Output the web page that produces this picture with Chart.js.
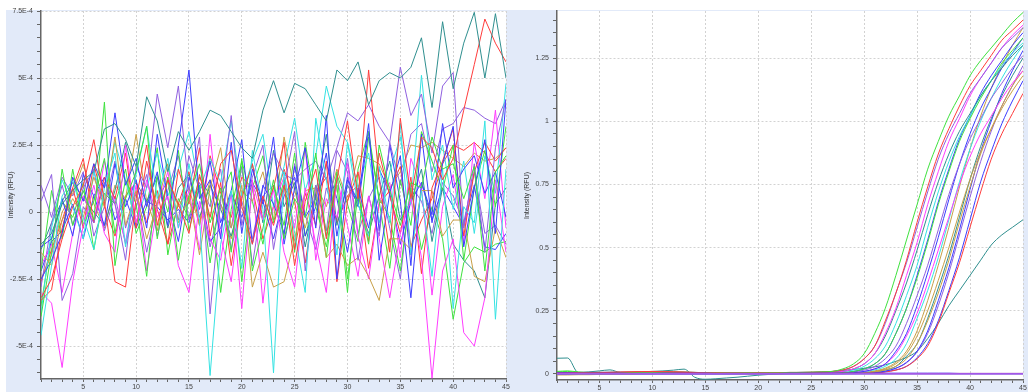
<!DOCTYPE html>
<html>
<head>
<meta charset="utf-8">
<script src="https://cdn.jsdelivr.net/npm/chart.js@4/dist/chart.umd.min.js"></script>
<style>
  html, body { margin: 0; padding: 0; background: #fff; }
  #wrap { position: relative; width: 1028px; height: 392px; overflow: hidden; }
  #panel { position: absolute; left: 6px; top: 10px; right: 0; bottom: 0; background: #e2eaf9; }
  canvas { position: absolute; top: 0; }
  #left { left: 0; }
  #right { left: 514px; }
</style>
</head>
<body>
<div id="wrap">
  <div id="panel"></div>
  <canvas id="left" width="514" height="392"></canvas>
  <canvas id="right" width="514" height="392"></canvas>
</div>
<script>
// cycles shared by both plots
var cycles = [1,2,3,4,5,6,7,8,9,10,11,12,13,14,15,16,17,18,19,20,21,22,23,24,25,26,27,28,29,30,31,32,33,34,35,36,37,38,39,40,41,42,43,44,45];

// left plot: baseline-subtracted signal, in units of 1E-4 RFU
var noise1 = [-1.2,-0.8,0.3,0.8,1.2, 1.5,3.1,3.3,2.7,1.7, 4.3,3.4,1.5,3.0,2.3, 3.0,3.8,3.6,3.0,2.4, 2.0,3.8,4.9,3.7,4.8, 4.6,4.0,3.4,5.3,4.9, 5.6,4.0,4.9,5.2,5.0, 5.4,6.5,3.9,7.1,4.6, 6.3,7.45,5.0,7.4,5.0];
var noise2 = [-3.2,-2.5,-1.0,0.2,1.0, 2.7,0.4,-2.6,-2.8,0.5, 2.5,-0.5,1.2,0.3,-0.8, 1.4,-0.2,1.8,2.3,0.2, -1.2,0.6,-0.5,1.0,-2.0, 0.4,1.6,-1.0,1.2,3.4, 0.5,5.3,1.2,-1.5,3.5, 0.5,2.8,2.4,1.2,2.0, 3.8,5.5,7.2,6.3,5.6];
var noise3 = [-3.9,-1.5,1.6,-0.5,0.8, -0.3,4.1,-2.0,0.5,1.5, 3.2,-1.0,1.3,-1.8,0.6, 1.8,-0.4,0.9,-1.5,2.0, -2.2,-0.6,1.2,-1.0,0.5, -0.2,2.2,-0.9,1.5,-2.5, 0.7,-1.2,2.5,0.8,-0.5, 1.1,0.9,2.8,1.6,1.8, 0.5,1.7,-2.2,1.5,2.1];
var noise4 = [-2.5,-1.8,-0.8,1.3,0.4, 1.8,0.9,3.7,1.0,2.0, 0.2,1.5,-0.5,2.5,5.3, 0.5,1.2,-1.0,2.6,-0.8, 1.6,0.3,2.8,-1.2,0.9, 2.4,-0.6,3.6,-2.5,1.2, 0.4,3.3,-1.8,0.7,2.1, -2.0,2.9,-0.4,1.8,3.2, -1.3,0.9,2.7,-0.8,4.2];
var noise5 = [-4.6,-2.0,0.6,1.2,-0.2, -1.4,0.9,2.2,-1.3,1.4, 3.2,0.5,2.0,-0.6,1.8, -0.3,-6.1,-1.2,0.8,-2.1, 2.3,0.1,-6.0,1.5,-0.8, -3.0,3.5,1.2,-1.6,2.6, 0.3,-0.9,1.7,-0.4,3.3, -1.6,0.8,-2.4,1.6,-3.6, 0.2,-0.4,3.4,-4.0,1.6];
var noise6 = [-3.0,-3.4,-5.8,-2.6,-0.5, 1.0,-0.8,-1.5,2.5,-0.4, 1.2,-0.2,0.6,-2.0,-3.0, 0.4,-1.0,-1.8,0.7,-3.6, 1.1,-0.3,0.8,-1.5,-2.8, 0.9,-1.2,-3.0,1.3,-0.5, -2.4,0.6,-1.0,-3.2,-0.8, 0.5,-1.7,-6.2,-2.2,-1.0, -4.5,-5.0,-3.2,1.2,-1.5];
var noise7 = [0.4,1.4,-3.3,-2.3,0.2, -0.4,1.1,0.3,-1.8,1.7, 0.9,4.4,2.4,4.7,0.8, 2.8,-3.8,0.4,3.6,-0.5, 1.3,2.5,-1.4,0.9,3.0, -2.2,1.0,-0.7,2.3,1.5, -1.8,0.6,-0.9,2.6,5.4, 3.6,4.4,2.2,4.7,5.2, -0.6,1.8,-1.5,2.4,4.2];
var noise8 = [-1.5,-2.0,-0.3,0.5,-0.2, 1.3,0.2,2.8,-0.5,0.8, -1.0,0.3,1.8,-0.4,0.6, -1.6,0.9,2.4,-0.6,1.0, -2.8,-1.5,-2.8,-2.6,-1.0, 0.8,0.9,-1.7,-1.2,-2.0, -1.7,-2.4,-3.3,-1.0,-1.0, -1.4,0.8,0.8,-0.9,-0.3, -0.3,-2.4,-2.6,-0.6,-1.7];
var noise9 = [-3.3,-2.9,-0.6,0.9,2.0, -0.4,1.3,0.5,2.2,-0.6, 1.9,0.1,-1.2,1.6,0.3, 2.4,-0.9,1.1,-2.0,0.5, 1.8,-0.3,0.9,2.6,-1.4, 0.7,-0.5,1.9,-2.6,0.4, 1.5,-1.1,2.2,0.6,-0.8, 1.3,-2.3,0.9,1.9,3.1, -0.9,1.5,2.6,1.9,2.4];
var noise10 = [-2.2,0.8,-1.0,1.6,-0.5, 0.4,2.0,-0.8,1.2,0.3, -2.4,1.4,0.0,2.3,-0.7, 1.0,-1.9,0.6,1.5,-2.6, 0.9,2.1,-0.4,1.2,-1.5, 2.6,0.2,-1.3,1.0,-3.0, 1.6,3.0,0.4,-2.1,1.2, -0.5,3.0,1.9,0.8,2.5, -1.8,0.9,2.3,0.2,3.2];
var noise11 = [-1.3,-1.0,0.5,-0.9,1.4, 0.6,-0.5,1.8,0.2,1.2, -0.6,2.9,0.5,-1.1,1.3, 0.1,1.9,-0.4,0.8,2.7, -1.2,1.0,0.3,-0.8,1.7, -0.2,0.5,2.2,-0.9,1.3, 0.2,3.0,-0.7,2.5,0.4, -3.2,1.1,-0.1,3.3,0.9, 1.6,2.1,0.7,1.5,-0.2];
var noise12 = [-3.8,-0.6,1.2,0.2,-1.0, 1.5,0.4,2.6,1.2,-0.5, 0.9,2.2,0.6,1.6,3.0, 0.8,2.0,1.1,3.4,0.6, 1.9,2.9,0.2,1.7,3.5, 0.8,2.1,4.7,3.2,2.6, 0.9,2.2,-0.4,1.5,2.8, 0.3,5.1,1.2,2.5,0.1, 1.9,-0.8,2.1,0.7,4.8];
var noise13 = [-2.0,-1.2,-3.0,-0.8,0.6, -0.4,1.9,0.3,-1.1,1.0, -2.2,0.2,1.5,-0.6,0.8, -1.4,2.9,-0.9,-2.6,0.7, 1.2,-3.4,0.3,1.3,-0.6, 2.4,-1.8,0.5,-0.2,1.8, -0.9,-2.5,0.4,1.1,-1.7, 2.0,0.9,-3.1,0.2,1.4, -1.2,2.6,0.5,3.8,-0.6];
var noise14 = [-2.8,-0.4,1.0,-0.5,0.9, 1.6,-0.7,0.6,-1.2,0.2, 1.4,-0.9,0.8,2.1,-0.3, 1.1,0.2,1.6,-1.4,0.4, -1.0,0.9,2.2,1.4,1.2, 1.6,1.9,1.2,2.4,3.7, 3.4,4.0,3.2,2.6,1.0, 2.9,3.3,1.5,3.1,3.3, 3.9,3.8,3.5,3.3,4.2];
var noise15 = [-1.4,-0.4,0.4,1.1,0.5, 0.0,-0.5,0.8,2.6,1.1, 0.4,1.3,-0.6,0.9,1.4, -0.2,1.0,0.1,-0.9,0.6, 1.8,-0.4,2.3,0.2,1.1, -1.3,0.7,2.9,-0.5,1.0, 0.3,-0.8,0.6,1.9,-0.3, 0.4,1.6,-1.1,0.9,-1.2, -1.8,-2.2,-3.2,0.3,0.9];
var noise16 = [-2.5,-1.6,0.0,0.7,1.8, 0.3,-0.6,1.0,0.5,2.9, 0.4,-0.7,1.3,0.2,0.9, -0.5,1.2,0.3,-1.0,0.8, 0.4,1.5,-0.3,2.8,0.8, -0.6,1.0,0.2,1.6,0.4, 2.1,2.0,1.8,0.9,1.5, 2.5,2.4,2.6,2.3,2.0, 1.7,2.2,1.9,2.0,2.4];
var noise17 = [-2.2,-1.1,-0.7,0.3,-1.0, 0.6,1.3,-0.3,0.5,-0.6, 0.4,0.2,-0.3,0.1,-0.4, 0.9,-1.1,-0.6,0.7,-0.2, 1.1,0.4,-1.0,0.6,1.3, -0.9,0.2,1.8,0.5,-1.5, 0.9,-0.6,1.6,0.7,-1.2, 0.4,1.1,-0.3,0.9,0.2, -0.5,1.0,-1.3,-1.4,-0.8];
var noise18 = [-3.5,-1.0,0.4,-0.2,1.1, -1.4,0.7,0.3,1.6,-0.8, 0.2,2.4,-1.6,0.5,-0.2, 1.3,0.6,-3.0,0.1,1.9, 0.4,-1.2,1.0,-0.5,2.2, -0.9,0.6,-1.7,1.4,0.3, -1.1,2.8,0.5,-0.2,-2.2, 0.9,-1.4,0.2,-1.0,-4.0, -1.9,-1.3,-1.5,-1.2,-1.1];
var noise19 = [-2.6,-1.4,-0.3,0.9,-0.6, 1.8,0.2,-0.9,0.6,1.1, -0.4,0.8,-1.2,0.3,1.5, -0.5,2.1,0.7,-0.2,1.3, 0.9,-1.0,0.2,1.6,0.4, -1.9,0.7,1.3,-0.4,0.6, 1.0,-2.1,0.3,0.8,1.7, -1.3,-0.3,0.5,1.8,2.5, 2.3,2.6,2.2,1.5,2.0];
var noise20 = [1.0,-0.2,1.3,0.6,1.5, -0.9,0.2,1.9,-0.6,0.7, -1.5,0.4,1.2,-0.3,2.1, 0.8,-1.3,0.3,-0.6,1.7, -2.0,0.6,1.0,-0.9,1.8, -0.1,-1.4,0.9,-0.3,2.0, -0.8,0.5,1.3,-0.6,-2.5, 1.0,0.4,-0.8,1.1,0.6, -0.4,1.5,-0.8,-0.5,-1.2];

var leftTickValues = [7.5, 5, 2.5, 0, -2.5, -5];
var leftTicks = ['7.5E-4', '5E-4', '2.5E-4', '0', '-2.5E-4', '-5E-4'];

// right plot: amplification curves, RFU
var amp1 = [.010,.012,.008,.006,.006, .005,.005,.006,.005,.005, .006,.005,.005,.004,.004, .005,.004,.004,.005,.004, .005,.005,.006,.006,.007, .008,.010, .02,.04,.08,.16,.26,.39,.53,.67,.81,.92,1.02,1.10,1.18,1.24,1.29,1.34,1.39,1.43];
var amp2 = [.004,.004,.005,.005,.006, .006,.007,.008,.009,.010, .009,.008,.007,.006,.005, .005,.004,.004,.004,.005, .005,.005,.006,.006,.007, .008,.010, .016,.03,.06,.11,.21,.32,.45,.60,.74,.87,.97,1.06,1.14,1.20,1.26,1.32,1.36,1.40];
var amp3 = [.002,.002,.003,.003,.003, .004,.004,.004,.004,.004, .004,.004,.004,.004,.004, .004,.004,.004,.004,.004, .005,.005,.005,.006,.006, .007,.009, .015,.03,.06,.11,.20,.32,.44,.58,.72,.85,.95,1.03,1.11,1.17,1.23,1.29,1.33,1.37];
var amp4 = [.003,.003,.003,.004,.004, .004,.005,.005,.005,.006, .006,.005,.005,.005,.004, .004,.004,.004,.004,.004, .004,.005,.005,.005,.005, .006,.007, .01,.02,.04,.08,.16,.26,.39,.52,.67,.80,.92,1.01,1.10,1.17,1.23,1.29,1.34,1.38];
var amp5 = [.005,.005,.005,.006,.006, .007,.007,.006,.006,.006, .006,.007,.007,.006,.005, .005,.005,.005,.005,.005, .005,.005,.005,.006,.006, .006,.007, .01,.02,.04,.08,.15,.25,.36,.49,.63,.76,.87,.96,1.03,1.10,1.16,1.21,1.26,1.30];
var amp6 = [.004,.004,.004,.004,.005, .005,.005,.005,.005,.005, .005,.005,.005,.005,.005, .005,.004,.004,.004,.004, .004,.004,.004,.005,.005, .005,.006, .01,.015,.03,.06,.11,.20,.31,.43,.58,.72,.84,.94,1.02,1.10,1.16,1.22,1.27,1.31];
var amp7 = [.008,.010,.006,.004,.004, .003,.003,.003,.004,.004, .004,.004,.003,.003,.003, .003,.003,.003,.003,.003, .003,.003,.003,.003,.004, .004,.004, .005,.01,.02,.04,.08,.16,.26,.38,.52,.67,.80,.92,1.01,1.09,1.16,1.23,1.28,1.33];
var amp8 = [.001,.001,.002,.002,.002, .002,.002,.003,.003,.003, .003,.003,.003,.003,.003, .003,.003,.003,.003,.003, .003,.003,.003,.003,.003, .004,.004, .005,.01,.02,.04,.08,.16,.26,.39,.53,.68,.81,.93,1.02,1.11,1.18,1.24,1.30,1.35];
var amp9 = [.003,.003,.003,.003,.003, .004,.004,.004,.004,.004, .004,.004,.004,.004,.003, .003,.003,.003,.003,.003, .003,.003,.003,.003,.003, .003,.003, .004,.008,.015,.03,.06,.11,.20,.31,.43,.57,.71,.83,.93,1.01,1.09,1.15,1.21,1.26];
var amp10 = [0,0,.001,.001,.001, .001,.001,.001,.001,.001, .001,.001,.001,.001,.001, .001,.001,.001,.002,.002, .002,.002,.002,.002,.002, .002,.002, .003,.005,.01,.02,.04,.09,.16,.27,.40,.54,.69,.83,.95,1.05,1.13,1.21,1.27,1.33];
var amp11 = [.006,.006,.006,.006,.006, .006,.006,.006,.006,.006, .006,.006,.005,.005,.005, .005,.005,.005,.005,.005, .005,.005,.004,.004,.004, .004,.004, .004,.005,.01,.02,.04,.08,.15,.24,.36,.49,.62,.75,.86,.95,1.02,1.09,1.15,1.20];
var amp12 = [.002,.002,.002,.003,.003, .003,.003,.003,.003,.003, .003,.003,.003,.003,.003, .003,.003,.003,.003,.003, .002,.002,.002,.002,.002, .002,.002, .002,.004,.009,.016,.03,.06,.12,.22,.33,.46,.61,.76,.89,1.00,1.09,1.17,1.24,1.30];
var amp13 = [-.004,-.004,-.003,-.003,-.002, -.002,-.001,0,.002,.006, .008,.009,.008,.006,.004, .003,.002,.002,.002,.002, .002,.002,.002,.002,.002, .002,.002, .002,.003,.006,.012,.023,.046,.09,.17,.29,.43,.58,.74,.89,1.02,1.13,1.22,1.30,1.37];
var amp14 = [-.002,-.002,-.002,-.001,-.001, -.001,0,0,.001,.001, .001,.001,.001,.001,.001, .001,.001,.001,.001,.001, .001,.001,.001,.001,.001, .001,.001, .002,.003,.005,.01,.02,.04,.08,.15,.25,.37,.50,.64,.77,.88,.97,1.05,1.12,1.18];
var amp15 = [.001,.001,.001,.001,.002, .002,.002,.002,.002,.002, .002,.002,.002,.002,.002, .002,.002,.002,.002,.002, .002,.002,.002,.002,.002, .002,.002, .002,.002,.004,.008,.016,.03,.06,.12,.21,.32,.45,.60,.74,.87,.97,1.06,1.14,1.20];
var amp16 = [.004,.004,.004,.004,.004, .004,.004,.004,.004,.004, .004,.004,.004,.004,.004, .004,.004,.004,.004,.004, .004,.004,.004,.004,.004, .004,.004, .004,.004,.005,.009,.016,.03,.07,.12,.22,.34,.47,.62,.77,.90,1.01,1.10,1.18,1.25];
var amp17 = [.002,.002,.002,.002,.002, .002,.002,.002,.002,.002, .002,.002,.002,.002,.002, .002,.002,.002,.002,.002, .002,.002,.002,.002,.002, .002,.002, .002,.002,.003,.006,.011,.023,.046,.09,.17,.29,.42,.57,.73,.88,1.00,1.11,1.20,1.28];
var amp18 = [.001,.001,.001,.001,.001, .001,.001,.001,.001,.001, .001,.001,.001,.001,.001, .001,.001,.001,.001,.001, .001,.001,.001,.001,.001, .001,.001, .001,.002,.003,.005,.011,.022,.044,.087,.16,.27,.40,.55,.70,.84,.96,1.06,1.14,1.22];
var amp19 = [.003,.003,.003,.003,.003, .003,.003,.003,.004,.005, .005,.004,.004,.003,.003, .003,.003,.003,.002,.002, .002,.002,.002,.002,.002, .002,.002, .002,.002,.002,.004,.008,.015,.03,.06,.11,.20,.32,.44,.58,.72,.85,.95,1.03,1.11];
var amp20 = [0,0,0,0,0, 0,0,0,0,0, 0,0,0,0,0, 0,0,0,0,0, 0,0,0,0,0, 0,0, .001,.001,.002,.004,.009,.016,.03,.064,.12,.21,.33,.46,.61,.76,.88,.99,1.08,1.16];
var amp21 = [.062,.063,.006,.008,.012, .016,.006,.007,.008,.010, .012,.015,.019,-.013,-.021, -.019,-.016,-.013,-.009,-.005, -.002,0,.002,.003,.005, .008,.010, .014,.018,.022,.028,.036,.05,.065,.09,.14,.20,.27,.33,.39,.45,.51,.55,.58,.61];

var flat1 = [.004,.004,.003,.003,.003, .003,.003,.002,.002,.002, .003,.003,.003,.003,.003, .002,.002,.002,.002,.002, .002,.002,.003,.003,.003, .003,.003,.003,.003,.003, .003,.003,.003,.003,.003, .003,.003,.003,.002,.002, .002,.002,.002,.002,.002];
var flat2 = [.004,.004,.004,.005,.005, .006,.007,.008,.009,.009, .008,.007,.006,.005,.004, .004,.003,.003,.003,.003, .003,.003,.003,.003,.003, .003,.003,.003,.003,.003, .003,.002,.002,.002,.002, .002,.002,.002,.002,.002, .002,.002,.002,.002,.002];
var flat3 = [.002,.002,.002,.001,.001, .001,.001,.001,.001,.001, .001,.001,.001,.001,.001, .001,.001,.001,.001,.001, .001,.001,.001,.001,.001, .001,.001,.001,.001,.001, .001,.001,.001,.001,.001, .001,.001,.001,.001,.001, .001,.001,.001,.001,.001];
var flat4 = [0,0,0,0,0, 0,0,0,0,0, 0,0,0,0,0, 0,0,0,0,0, 0,0,0,0,0, 0,0,0,0,0, 0,0,0,0,0, 0,0,0,0,0, 0,0,0,0,0];

var rightTickValues = [1.25, 1, 0.75, 0.5, 0.25, 0];
var rightTicks = ['1.25', '1', '0.75', '0.5', '0.25', '0'];

var RED = '#ff3c3c', GREEN = '#3ee23e', BLUE = '#3c3cff', CYAN = '#35e3e3',
    MAGENTA = '#ff3cff', PURPLE = '#9060e0', TEAL = '#2f8f8f', TAN = '#c8a048';

var leftSeries = [noise1, noise2, noise3, noise4, noise5, noise6, noise7, noise8, noise9, noise10,
                  noise11, noise12, noise13, noise14, noise15, noise16, noise17, noise18, noise19, noise20];
var leftColors = [TEAL, RED, GREEN, BLUE, CYAN, MAGENTA, PURPLE, TAN, RED, GREEN,
                  BLUE, CYAN, MAGENTA, PURPLE, TEAL, TAN, BLUE, GREEN, RED, PURPLE];

// flat ones first so they end up on top of the stack
var rightSeries = [flat4, flat3, flat1, flat2, amp1, amp2, amp3, amp4, amp5, amp6, amp7, amp8, amp9, amp10,
                   amp11, amp12, amp13, amp14, amp15, amp16, amp17, amp18, amp19, amp20, amp21];
var rightColors = [PURPLE, MAGENTA, BLUE, RED, GREEN, RED, PURPLE, MAGENTA, TEAL, CYAN, GREEN, BLUE, PURPLE, BLUE,
                   MAGENTA, CYAN, TAN, TAN, TAN, TEAL, BLUE, PURPLE, RED, BLUE, TEAL];

var FONT = '"Liberation Sans", Arial, sans-serif';

var plotBackground = {
  id: 'plotBackground',
  beforeDraw: function(chart) {
    var a = chart.chartArea, ctx = chart.ctx;
    ctx.save();
    ctx.fillStyle = '#ffffff';
    ctx.fillRect(a.left, a.top, a.right - a.left, a.bottom - a.top);
    ctx.restore();
  }
};

function tickLabel(v, values, labels) {
  for (var i = 0; i < values.length; i++) {
    if (Math.abs(values[i] - v) < 1e-6) return labels[i];
  }
  return '';
}

function drawPlot(id, series, colors, o) {
  var datasets = series.map(function(vals, i) {
    return {
      data: vals.map(function(v, j) { return { x: cycles[j], y: v }; }),
      borderColor: colors[i],
      borderWidth: o.width && i === 0 ? o.width : 1,
      pointRadius: 0,
      fill: false,
      tension: 0,
      cubicInterpolationMode: o.smooth ? 'monotone' : 'default'
    };
  });

  new Chart(document.getElementById(id), {
    type: 'line',
    data: { datasets: datasets },
    plugins: [plotBackground],
    options: {
      responsive: false,
      animation: false,
      devicePixelRatio: 1,
      layout: { padding: { left: 0, top: 11, right: o.padRight, bottom: 0 } },
      plugins: { legend: { display: false }, tooltip: { enabled: false } },
      scales: {
        x: {
          type: 'linear', min: 1, max: 45,
          afterFit: function(s) { s.height = o.xHeight; },
          ticks: {
            stepSize: 1, autoSkip: false, maxRotation: 0, minRotation: 0, padding: 1,
            color: '#444', font: { family: FONT, size: 7 },
            callback: function(v) { return v % 5 === 0 ? String(v) : ''; }
          },
          grid: {
            color: function(c) { return c.tick && c.tick.value % 5 === 0 ? '#d2d2d2' : 'rgba(0,0,0,0)'; },
            tickColor: '#666', tickLength: 3, tickBorderDash: []
          },
          border: { display: true, color: '#666', width: 1.5, dash: [2, 2] }
        },
        y: {
          type: 'linear', min: o.yMin, max: o.yMax,
          afterFit: function(s) { s.width = o.yWidth; },
          // minor tick every yStep, labels only on the listed values
          afterBuildTicks: function(s) {
            var t = [];
            for (var k = Math.ceil(o.yMin / o.yStep - 1e-9); k * o.yStep <= o.yMax + 1e-9; k++) {
              t.push({ value: +(k * o.yStep).toFixed(4) });
            }
            s.ticks = t;
          },
          ticks: {
            autoSkip: false, padding: 4,
            color: '#444', font: { family: FONT, size: 7 },
            callback: function(v) { return tickLabel(v, o.yValues, o.yLabels); }
          },
          grid: {
            color: function(c) { return c.tick && tickLabel(c.tick.value, o.yValues, o.yLabels) ? '#d2d2d2' : 'rgba(0,0,0,0)'; },
            tickColor: '#666', tickLength: 4, tickBorderDash: []
          },
          border: { display: true, color: '#666', width: 1.5, dash: [2, 2] },
          title: {
            display: true, text: 'Intensity (RFU)', color: '#333',
            font: { family: FONT, size: 7 }, padding: { top: o.titlePad, bottom: 0 }
          }
        }
      }
    }
  });
}

drawPlot('left', leftSeries, leftColors, {
  yMin: -6.23, yMax: 7.5, yStep: 0.5,
  yValues: leftTickValues, yLabels: leftTicks,
  yWidth: 41, xHeight: 13, padRight: 8, titlePad: 7, smooth: false
});

drawPlot('right', rightSeries, rightColors, {
  yMin: -0.024, yMax: 1.436, yStep: 0.05,
  yValues: rightTickValues, yLabels: rightTicks,
  yWidth: 43, xHeight: 12, padRight: 5, titlePad: 9, smooth: true, width: 1.5
});
</script>
</body>
</html>
